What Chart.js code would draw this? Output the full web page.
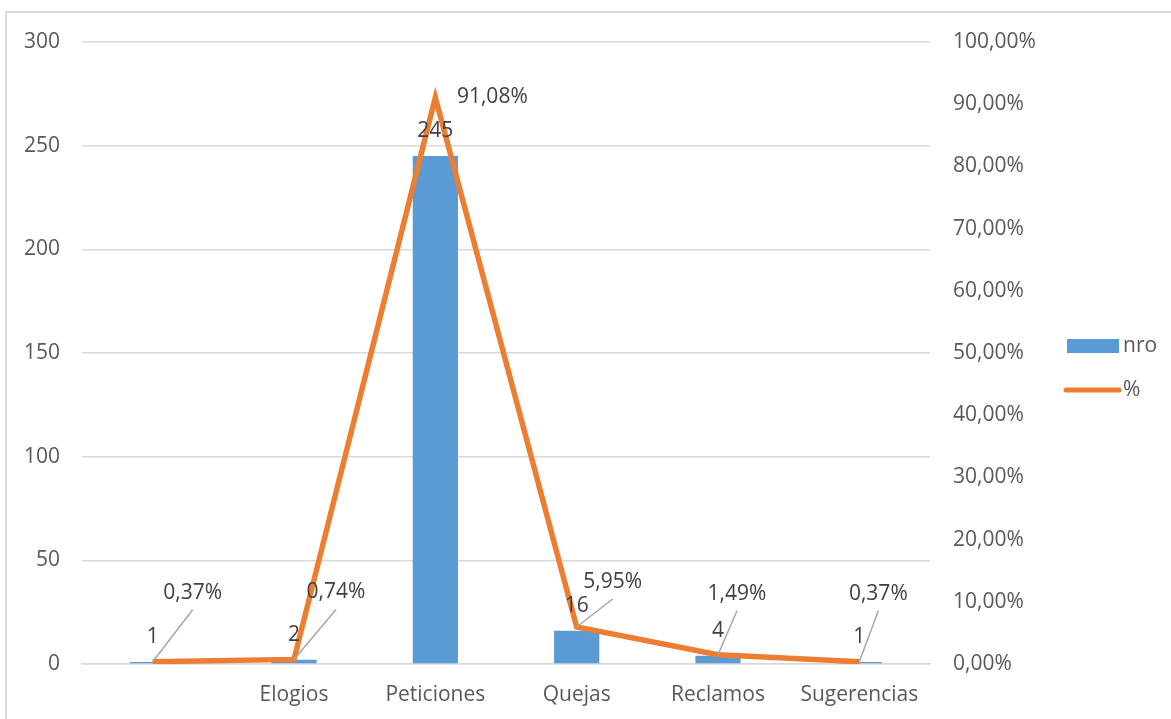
<!DOCTYPE html>
<html>
<head>
<meta charset="utf-8">
<script src="https://cdn.jsdelivr.net/npm/chart.js@4"></script>
<style>
  html, body { margin: 0; padding: 0; background: #fff; overflow: hidden; }
  #wrap { position: relative; width: 1171px; height: 719px; }
</style>
</head>
<body>
<div id="wrap"><canvas id="chart" width="1171" height="719"></canvas></div>
<script>
const categories = ['', 'Elogios', 'Peticiones', 'Quejas', 'Reclamos', 'Sugerencias'];
const nroValues = [1, 2, 245, 16, 4, 1];
const pctValues = [0.37, 0.74, 91.08, 5.95, 1.49, 0.37];

const FONT = "'Open Sans', 'Liberation Sans', sans-serif";
const BLUE = '#5B9BD5';
const ORANGE = '#ED7D31';

// where each % label sits relative to its point, and whether it gets a leader line
const pctLabelOffsets = [[40, -69], [42, -67], [57, 0], [36, -45], [19, -61], [19, -68]];
const pctLeader = [true, true, false, true, true, true];

function fmtPct(v) {
    return v.toFixed(2).replace('.', ',') + '%';
}

const frame = {
    id: 'frame',
    beforeDraw(chart) {
        const ctx = chart.ctx;
        ctx.save();
        ctx.strokeStyle = '#d9d9d9';
        ctx.lineWidth = 2;
        ctx.strokeRect(6, 12, 1200, 760);
        ctx.restore();
    }
};

const labels = {
    id: 'labels',
    afterDatasetsDraw(chart) {
        const ctx = chart.ctx;
        ctx.save();
        ctx.font = '21px ' + FONT;
        ctx.fillStyle = '#404040';
        ctx.textAlign = 'center';
        ctx.textBaseline = 'middle';

        chart.getDatasetMeta(0).data.forEach((bar, i) => {
            ctx.fillText(String(nroValues[i]), bar.x, bar.y - 25);
        });

        chart.getDatasetMeta(1).data.forEach((pt, i) => {
            const [dx, dy] = pctLabelOffsets[i];
            if (pctLeader[i]) {
                ctx.strokeStyle = '#a6a6a6';
                ctx.lineWidth = 1.5;
                ctx.beginPath();
                ctx.moveTo(pt.x, pt.y);
                ctx.lineTo(pt.x + dx, pt.y + dy + 17);
                ctx.stroke();
            }
            ctx.fillText(fmtPct(pctValues[i]), pt.x + dx, pt.y + dy);
        });

        // legend on the right
        ctx.textAlign = 'left';
        ctx.fillStyle = BLUE;
        ctx.fillRect(1067, 339, 52, 14);
        ctx.strokeStyle = ORANGE;
        ctx.lineWidth = 5;
        ctx.lineCap = 'round';
        ctx.beginPath();
        ctx.moveTo(1066, 390);
        ctx.lineTo(1119, 390);
        ctx.stroke();
        ctx.fillStyle = '#595959';
        ctx.fillText(chart.data.datasets[0].label, 1123, 346);
        ctx.fillText(chart.data.datasets[1].label, 1123, 390);
        ctx.restore();
    }
};

new Chart(document.getElementById('chart'), {
    type: 'bar',
    data: {
        labels: categories,
        datasets: [
            {
                label: 'nro',
                data: nroValues,
                backgroundColor: BLUE,
                categoryPercentage: 0.32,
                barPercentage: 1,
                yAxisID: 'y',
                order: 2
            },
            {
                type: 'line',
                label: '%',
                data: pctValues,
                borderColor: ORANGE,
                backgroundColor: ORANGE,
                borderWidth: 5.5,
                pointRadius: 0,
                tension: 0,
                yAxisID: 'y1',
                order: 1
            }
        ]
    },
    options: {
        responsive: false,
        animation: false,
        layout: { padding: { top: 42, left: 0, right: 0, bottom: 0 } },
        plugins: { legend: { display: false }, tooltip: { enabled: false } },
        scales: {
            x: {
                grid: { display: false },
                border: { color: '#d9d9d9', width: 1.5 },
                ticks: { color: '#595959', font: { family: FONT, size: 21 }, padding: 10, maxRotation: 0 },
                afterFit(s) { s.height = 55; }
            },
            y: {
                position: 'left',
                min: 0, max: 300,
                ticks: { stepSize: 50, color: '#595959', font: { family: FONT, size: 21 }, padding: 22 },
                grid: { color: '#d9d9d9', lineWidth: 1.5, drawTicks: false },
                border: { display: false },
                afterFit(s) { s.width = 82; }
            },
            y1: {
                position: 'right',
                min: 0, max: 100,
                ticks: { stepSize: 10, color: '#595959', font: { family: FONT, size: 21 }, padding: 23, callback: v => fmtPct(v) },
                grid: { display: false, drawTicks: false },
                border: { display: false },
                afterFit(s) { s.width = 241; }
            }
        }
    },
    plugins: [frame, labels]
});
</script>
</body>
</html>
